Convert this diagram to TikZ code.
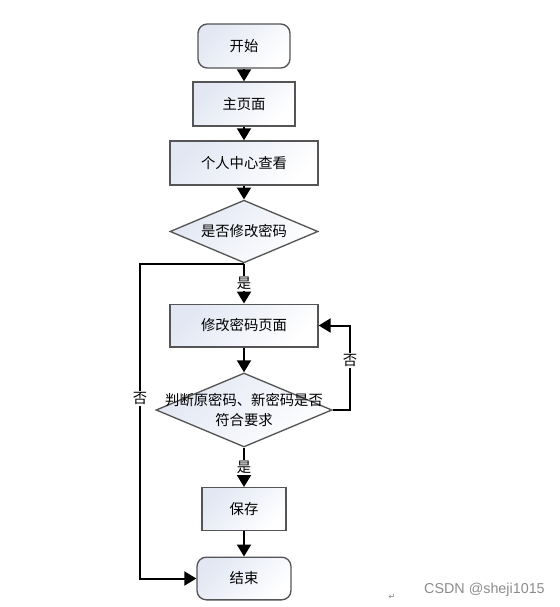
\documentclass[tikz,border=0pt]{standalone}
\usepackage{fontspec}
\newfontfamily\cjk{Noto Sans CJK SC}
\newfontfamily\wmfont{Liberation Sans}
\newfontfamily\symfont{DejaVu Sans}
\usetikzlibrary{shapes.geometric,arrows.meta,positioning,calc}
\definecolor{BoxFill}{HTML}{E2E7F3}
\definecolor{BoxLine}{HTML}{555555}

\tikzset{
  base/.style={draw=BoxLine, line width=1pt, top color=BoxFill,
               bottom color=white, shading angle=45, inner sep=0pt,
               font=\cjk\fontsize{10.75}{12}\selectfont},
  startstop/.style={base, rounded corners=7pt, minimum width=69pt, minimum height=33pt},
  process/.style={base, rectangle, minimum height=33pt},
  decision/.style={base, diamond, aspect=2.35},
  flow/.style={line width=1.5pt, -{Triangle[width=10.5pt,length=9pt]}},
  lab/.style={fill=white, inner sep=1pt, font=\cjk\fontsize{10.75}{12}\selectfont}
}

\begin{document}
\begin{tikzpicture}[x=0.75pt, y=-0.75pt]
  \useasboundingbox (0,0) rectangle (560,607);

  % main column
  \node[startstop] (start) at (244,46) {开始};
  \node[process, minimum width=76.5pt] (home) at (244,104) {主页面};
  \node[process, minimum width=111pt] (center) at (244,163) {个人中心查看};
  \node[decision, minimum width=111pt, minimum height=47pt] (ask) at (244,231.5) {是否修改密码};
  \node[process, minimum width=111pt, minimum height=32pt] (pwd) at (244,325.5) {修改密码页面};
  \node[decision, minimum width=132pt, minimum height=55.5pt,
        label={[align=center, font=\cjk\fontsize{10.75}{15}\selectfont]center:判断原密码、新密码是否\\符合要求}] (check) at (244,410) {};
  \node[process, minimum width=63pt, minimum height=32pt] (save) at (244,509) {保存};
  \node[startstop, minimum width=70.5pt, minimum height=32pt] (end) at (244,578.5) {结束};

  % side rails
  \coordinate (leftx) at (140,0);
  \coordinate (rightx) at (350,0);

  \draw[flow] (start) -- (home);
  \draw[flow] (home) -- (center);
  \draw[flow] (center) -- (ask);
  \draw[flow] (ask) -- node[lab] {是} (pwd);
  \draw[flow] (pwd) -- (check);
  \draw[flow] (check) -- node[lab] {是} (save);
  \draw[flow] (save) -- (end);
  \draw[flow] (ask.south) -- (ask.south -| leftx)
    -- node[lab, pos=0.43] {否} (end.west -| leftx) -- (end.west);
  \draw[flow] (check.east) -- (check.east -| rightx)
    -- node[lab, pos=0.59] {否} (pwd.east -| rightx) -- (pwd.east);

  % watermark
  \node[font=\symfont\fontsize{6}{6}\selectfont, text=black!50] (ret) at (392,597) {↵};
  \node[font=\wmfont\fontsize{10.75}{11}\selectfont, text=black!45,
        anchor=east, inner sep=0pt] (mark) at (545,590) {CSDN @sheji1015};
\end{tikzpicture}
\end{document}
